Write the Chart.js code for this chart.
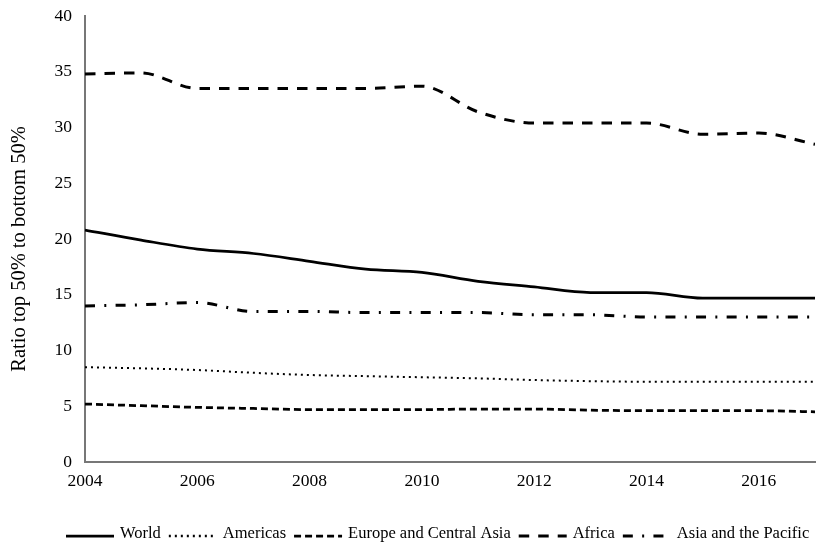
<!DOCTYPE html>
<html>
<head>
<meta charset="utf-8">
<script src="https://cdn.jsdelivr.net/npm/chart.js@4"></script>
<style>
  html, body { margin: 0; padding: 0; background: #fff; }
  #wrap { width: 816px; height: 550px; }
</style>
</head>
<body>
<div id="wrap"><canvas id="c" width="816" height="550"></canvas></div>
<script>
// Ratio of the top 50% income share to the bottom 50%, by region
const years = [2004, 2005, 2006, 2007, 2008, 2009, 2010, 2011, 2012, 2013, 2014, 2015, 2016, 2017];
const world    = [20.8, 19.9, 19.1, 18.7, 18.0, 17.3, 17.0, 16.2, 15.7, 15.2, 15.2, 14.7, 14.7, 14.7];
const americas = [8.5, 8.4, 8.25, 8.0, 7.8, 7.7, 7.6, 7.5, 7.35, 7.25, 7.2, 7.2, 7.2, 7.2];
const europeCA = [5.2, 5.05, 4.9, 4.8, 4.7, 4.7, 4.7, 4.75, 4.75, 4.65, 4.6, 4.6, 4.6, 4.5];
const africa   = [34.8, 34.9, 33.5, 33.5, 33.5, 33.5, 33.7, 31.4, 30.4, 30.4, 30.4, 29.4, 29.5, 28.5];
const asiaPac  = [14.0, 14.1, 14.3, 13.5, 13.5, 13.4, 13.4, 13.4, 13.2, 13.2, 13.0, 13.0, 13.0, 13.0];
const yTicks = { min: 0, max: 40, step: 5 };
const xTickYears = [2004, 2006, 2008, 2010, 2012, 2014, 2016];
const yTitle = 'Ratio top 50% to bottom 50%';

const FONT = '"Liberation Serif", "Times New Roman", serif';

function series(label, values, width, dash) {
  return {
    label,
    data: years.map((y, i) => ({ x: y, y: values[i] })),
    borderColor: '#000',
    backgroundColor: '#000',
    borderWidth: width,
    borderDash: dash,
    borderCapStyle: 'butt',
    pointRadius: 0,
    pointHoverRadius: 0,
    fill: false,
    cubicInterpolationMode: 'monotone'
  };
}

// Rotated y-axis title, set a little below the plot's vertical centre
const axisTitle = {
  id: 'axisTitle',
  afterDraw(chart) {
    const ctx = chart.ctx;
    ctx.save();
    ctx.translate(20, 249);
    ctx.rotate(-Math.PI / 2);
    ctx.font = '20.5px ' + FONT;
    ctx.fillStyle = '#000';
    ctx.textAlign = 'center';
    ctx.textBaseline = 'middle';
    ctx.fillText(yTitle, 0, 0);
    ctx.restore();
  }
};

// Legend row drawn under the axis: a line sample then its label
const lineLegend = {
  id: 'lineLegend',
  afterDraw(chart) {
    const ctx = chart.ctx;
    const y = 536;
    let x = 66;
    const sample = 48, gapLine = 6, gapText = 8;
    ctx.save();
    ctx.font = '16.5px ' + FONT;
    ctx.textBaseline = 'middle';
    ctx.textAlign = 'left';
    chart.data.datasets.forEach(ds => {
      ctx.beginPath();
      ctx.setLineDash(ds.borderDash || []);
      ctx.lineWidth = Math.max(ds.borderWidth, 2.5);
      ctx.lineCap = 'butt';
      ctx.strokeStyle = ds.borderColor;
      ctx.moveTo(x, y);
      ctx.lineTo(x + sample, y);
      ctx.stroke();
      ctx.setLineDash([]);
      x += sample + gapLine;
      ctx.fillStyle = '#000';
      ctx.fillText(ds.label, x, y - 2);
      x += ctx.measureText(ds.label).width + gapText;
    });
    ctx.restore();
  }
};

new Chart(document.getElementById('c'), {
  type: 'line',
  data: {
    datasets: [
      series('World', world, 2.75, []),
      series('Americas', americas, 2, [2, 4]),
      series('Europe and Central Asia', europeCA, 2.75, [7, 4]),
      series('Africa', africa, 3, [10.5, 9]),
      series('Asia and the Pacific', asiaPac, 3, [10, 9.3, 2, 9.3])
    ]
  },
  options: {
    responsive: false,
    animation: false,
    events: [],
    layout: { padding: { top: 16, right: 1, left: 0, bottom: 0 } },
    plugins: { legend: { display: false }, tooltip: { enabled: false } },
    scales: {
      x: {
        type: 'linear',
        min: years[0],
        max: years[years.length - 1],
        grid: { display: false, drawTicks: false },
        border: { display: true, color: '#777', width: 2 },
        afterBuildTicks(scale) {
          scale.ticks = xTickYears.map(v => ({ value: v }));
        },
        ticks: {
          padding: 9,
          color: '#000',
          font: { family: FONT, size: 17.5 },
          maxRotation: 0,
          callback: v => String(v)
        },
        afterFit(scale) {
          scale.height = 88;
          scale.paddingLeft = 0;
          scale.paddingRight = 0;
        }
      },
      y: {
        min: yTicks.min,
        max: yTicks.max,
        grid: { display: false, drawTicks: false },
        border: { display: true, color: '#777', width: 2 },
        ticks: {
          stepSize: yTicks.step,
          padding: 13,
          color: '#000',
          font: { family: FONT, size: 17.5 }
        },
        afterFit(scale) {
          scale.width = 85;
          scale.paddingTop = 0;
          scale.paddingBottom = 0;
        }
      }
    }
  },
  plugins: [axisTitle, lineLegend]
});
</script>
</body>
</html>
